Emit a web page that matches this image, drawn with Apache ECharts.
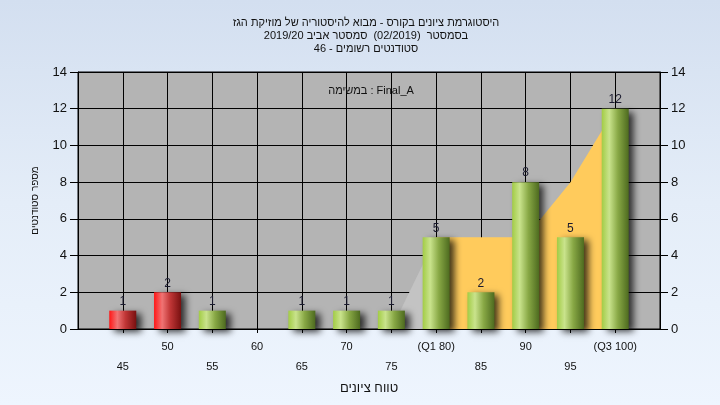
<!DOCTYPE html>
<html>
<head>
<meta charset="utf-8">
<script src="https://cdn.jsdelivr.net/npm/echarts@6/dist/echarts.min.js"></script>
<style>
html,body{margin:0;padding:0;}
#chart{width:720px;height:405px;background:linear-gradient(to bottom,#d3dff0 0%,#e4edf8 50%,#eef5fe 100%);}
</style>
</head>
<body>
<div id="chart"></div>
<script>
const titleLines = [
  'היסטוגרמת ציונים בקורס - מבוא להיסטוריה של מוזיקת הגז',
  'בסמסטר  (02/2019)  סמסטר אביב 2019/20',
  'סטודנטים רשומים - 46'
];
const taskLabel = 'במשימה : Final_A';
const xAxisName = 'טווח ציונים';
const yAxisName = 'מספר סטודנטים';
const scoreBins = [45, 50, 55, 60, 65, 70, 75, 80, 85, 90, 95, 100];
const binLabels = ['45', '50', '55', '60', '65', '70', '75', '(Q1 80)', '85', '90', '95', '(Q3 100)'];
const studentCounts = [1, 2, 1, 0, 1, 1, 1, 5, 2, 8, 5, 12];
const passThreshold = 55;
const lowerTailX = [75, 80];
const lowerTailY = [0, 5];
const quartileBandX = [80, 85, 90, 95, 100];
const quartileBandY = [5, 5, 5, 8, 12];

const FONT = '"Liberation Sans", Arial, "DejaVu Sans", sans-serif';
const greenGrad = new echarts.graphic.LinearGradient(0, 0, 1, 0, [
  {offset: 0, color: '#a2cc45'},
  {offset: 0.28, color: '#c9e38c'},
  {offset: 0.6, color: '#88a845'},
  {offset: 1, color: '#4d6a1f'}
]);
const redGrad = new echarts.graphic.LinearGradient(0, 0, 1, 0, [
  {offset: 0, color: '#ff1616'},
  {offset: 0.3, color: '#f07474'},
  {offset: 0.6, color: '#c03636'},
  {offset: 1, color: '#781010'}
]);
const labelMap = {};
scoreBins.forEach((b, i) => { labelMap[b] = binLabels[i]; });

const chart = echarts.init(document.getElementById('chart'), null, {renderer: 'canvas'});
chart.setOption({
  backgroundColor: 'transparent',
  animation: false,
  title: [{
    text: titleLines.join('\n'),
    left: 361, top: 11, textAlign: 'center',
    textStyle: {fontFamily: FONT, fontSize: 11, fontWeight: 'normal', color: '#111', lineHeight: 13}
  }, {
    text: taskLabel,
    left: 366, top: 80, textAlign: 'center',
    textStyle: {fontFamily: FONT, fontSize: 11, fontWeight: 'normal', color: '#111'}
  }],
  grid: {left: 78, right: 60, top: 72, bottom: 76, show: true, backgroundColor: '#b4b4b4', borderColor: '#000', borderWidth: 1},
  xAxis: {
    type: 'value', min: 40, max: 105, interval: 5,
    name: xAxisName, nameLocation: 'middle', nameGap: 43,
    nameTextStyle: {fontFamily: FONT, fontSize: 13, color: '#111'},
    axisLine: {show: true, lineStyle: {color: '#000', width: 1}},
    axisTick: {show: true, length: 4, lineStyle: {color: '#000'}},
    splitLine: {show: true, lineStyle: {color: '#000', width: 1}},
    axisLabel: {
      fontFamily: FONT, fontSize: 11, color: '#111', margin: 8, lineHeight: 20,
      showMinLabel: false, showMaxLabel: false,
      formatter: v => {
        const l = labelMap[v];
        if (l === undefined) return '';
        return (v % 10 === 5) ? '\n' + l : l;
      }
    }
  },
  yAxis: [{
    type: 'value', min: 0, max: 14, interval: 2,
    name: yAxisName, nameLocation: 'middle', nameGap: 38,
    nameTextStyle: {fontFamily: FONT, fontSize: 10, color: '#111'},
    axisLine: {show: true, lineStyle: {color: '#000'}},
    axisTick: {show: true, length: 8, lineStyle: {color: '#000'}},
    splitLine: {show: true, lineStyle: {color: '#000', width: 1}},
    axisLabel: {fontFamily: FONT, fontSize: 13, color: '#111', margin: 11}
  }, {
    type: 'value', min: 0, max: 14, interval: 2, position: 'right',
    axisLine: {show: true, lineStyle: {color: '#000'}},
    axisTick: {show: true, length: 8, lineStyle: {color: '#000'}},
    splitLine: {show: false},
    axisLabel: {fontFamily: FONT, fontSize: 13, color: '#111', margin: 11}
  }],
  series: [{
    type: 'line', z: 1,
    data: lowerTailX.map((x, i) => [x, lowerTailY[i]]),
    symbol: 'none', lineStyle: {width: 0},
    areaStyle: {color: '#c3c3c3', opacity: 1}
  }, {
    type: 'line', z: 1,
    data: quartileBandX.map((x, i) => [x, quartileBandY[i]]),
    symbol: 'none', lineStyle: {width: 0},
    areaStyle: {color: '#ffcb5c', opacity: 1}
  }, {
    type: 'bar', z: 3, barWidth: 27,
    data: scoreBins.map((b, i) => ({
      value: [b, studentCounts[i]],
      itemStyle: {color: b < passThreshold ? redGrad : greenGrad}
    })),
    itemStyle: {shadowColor: 'rgba(0,0,0,0.75)', shadowBlur: 7, shadowOffsetX: 5, shadowOffsetY: 3},
    label: {
      show: true, position: 'top', distance: 3,
      fontFamily: FONT, fontSize: 12, color: '#1a1a2e',
      formatter: p => p.value[1] === 0 ? '' : String(p.value[1])
    }
  }]
});
</script>
</body>
</html>
